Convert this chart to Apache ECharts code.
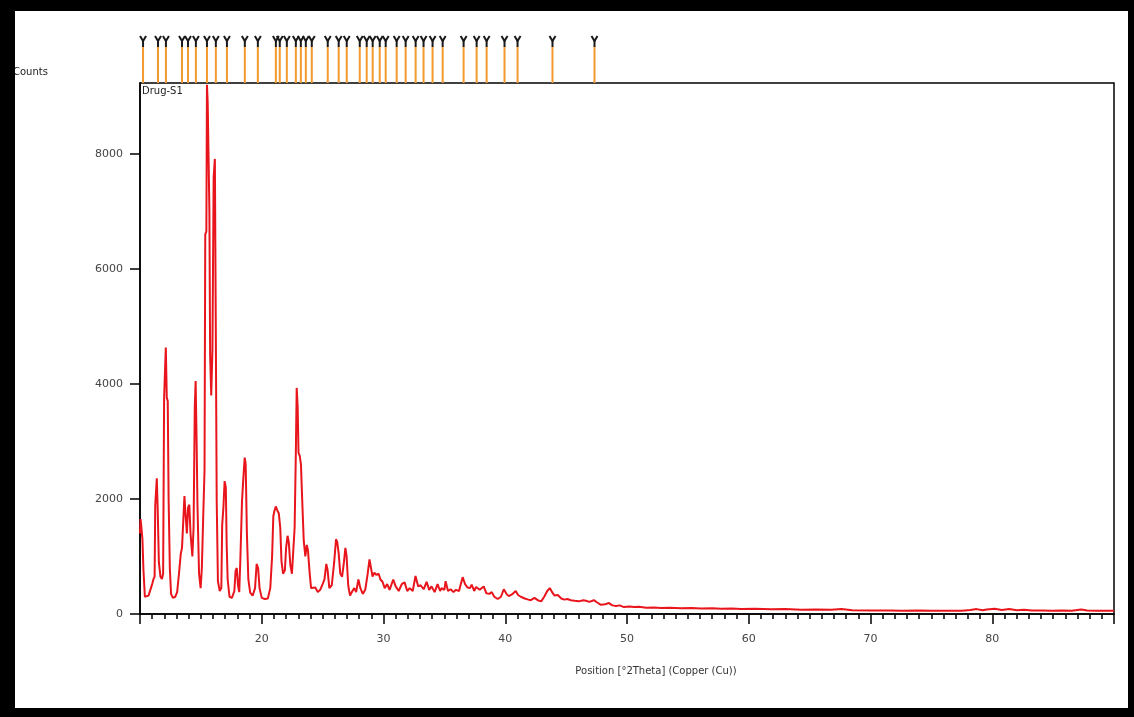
<!DOCTYPE html>
<html><head><meta charset="utf-8">
<script src="https://cdn.jsdelivr.net/npm/echarts@6/dist/echarts.min.js"></script>
<style>html,body{margin:0;padding:0;background:#fff}#c{width:1134px;height:717px}</style>
</head><body><div id="c"></div>
<script>
// Diffraction scan: [2Theta (deg), counts]
const scan = [
[10.00,1400],[10.05,1650],[10.12,1650],[10.20,1300],[10.28,780],[10.40,300],[10.55,280],[10.70,320],[10.85,420],[11.00,520],
[11.10,600],[11.20,650],[11.25,1880],[11.32,1900],[11.38,2360],[11.45,1850],[11.55,900],[11.68,650],[11.80,610],[11.90,700],
[11.98,3750],[12.05,4200],[12.12,4630],[12.20,3760],[12.28,3700],[12.35,2000],[12.45,800],[12.55,350],[12.70,280],[12.90,300],
[13.05,380],[13.20,700],[13.35,1050],[13.45,1150],[13.55,1600],[13.65,2050],[13.75,1700],[13.85,1400],[13.95,1850],[14.05,1900],
[14.15,1400],[14.30,1000],[14.40,1500],[14.50,3600],[14.57,4050],[14.65,3000],[14.72,1900],[14.85,700],[14.98,450],[15.08,800],
[15.20,1750],[15.30,2500],[15.36,6600],[15.45,6650],[15.50,9200],[15.56,8900],[15.62,8090],[15.70,7000],[15.76,4500],[15.85,3800],
[15.95,4600],[16.05,7600],[16.15,7910],[16.22,5200],[16.30,1970],[16.40,570],[16.55,400],[16.68,450],[16.75,1550],[16.85,1850],
[16.95,2310],[17.05,2200],[17.12,1200],[17.20,600],[17.35,300],[17.55,280],[17.75,400],[17.85,750],[17.95,800],[18.05,500],
[18.15,380],[18.25,1000],[18.38,1970],[18.50,2400],[18.60,2720],[18.68,2600],[18.78,1400],[18.90,600],[19.05,370],[19.25,320],
[19.45,450],[19.58,870],[19.70,800],[19.82,450],[20.00,280],[20.25,260],[20.50,270],[20.70,450],[20.85,1000],[20.95,1700],
[21.05,1800],[21.15,1870],[21.28,1800],[21.40,1750],[21.52,1500],[21.62,920],[21.75,700],[21.90,760],[22.00,1150],[22.12,1360],
[22.22,1250],[22.35,850],[22.48,700],[22.60,680],[22.70,1500],[22.80,2800],[22.87,3930],[22.95,3600],[23.02,2800],[23.12,2750],
[23.22,2600],[23.32,2000],[23.45,1270],[23.58,1000],[23.70,1200],[23.80,1100],[23.92,750],[24.05,450],[24.20,420],[24.40,460],
[24.60,380],[24.80,420],[25.00,520],[25.15,600],[25.30,870],[25.40,780],[25.55,450],[25.75,500],[25.95,900],[26.10,1300],
[26.20,1250],[26.32,1050],[26.45,700],[26.60,650],[26.75,900],[26.87,1150],[26.97,1000],[27.10,500],[27.25,320],[27.45,400],
[27.60,450],[27.75,380],[27.94,600],[28.10,450],[28.30,350],[28.50,420],[28.70,700],[28.85,950],[28.95,920],[29.10,650],
[29.25,720],[29.40,680],[29.60,700],[29.75,600],[29.92,560],[30.10,450],[30.30,520],[30.50,420],[30.80,600],[31.00,480],
[31.25,400],[31.50,520],[31.73,550],[31.95,400],[32.15,450],[32.40,400],[32.63,660],[32.85,480],[33.05,500],[33.30,430],
[33.54,560],[33.75,420],[33.95,480],[34.20,380],[34.44,520],[34.65,400],[34.77,450],[35.00,420],[35.10,570],[35.30,400],
[35.51,430],[35.75,380],[35.95,420],[36.20,400],[36.50,640],[36.70,520],[36.91,460],[37.10,450],[37.24,510],[37.45,400],
[37.60,470],[37.90,420],[38.23,480],[38.45,360],[38.70,350],[38.89,380],[39.10,300],[39.38,260],[39.65,300],[39.88,430],
[40.10,350],[40.29,310],[40.55,340],[40.86,400],[41.05,330],[41.28,300],[41.60,270],[41.90,250],[42.10,240],[42.40,280],
[42.67,240],[42.95,220],[43.20,300],[43.45,400],[43.66,450],[43.85,380],[44.05,320],[44.32,330],[44.60,270],[44.85,250],
[45.10,260],[45.39,240],[45.70,230],[46.05,220],[46.40,240],[46.63,230],[46.90,210],[47.28,240],[47.55,200],[47.86,160],
[48.20,170],[48.52,190],[48.80,150],[49.09,140],[49.40,150],[49.75,120],[50.20,130],[50.58,120],[51.00,125],[51.56,110],
[52.20,115],[52.80,105],[53.50,110],[54.44,100],[55.30,105],[56.09,95],[57.00,100],[57.74,90],[58.60,95],[59.38,88],
[60.50,90],[61.85,82],[63.00,85],[64.32,75],[65.50,78],[66.79,72],[67.61,85],[68.50,65],[70.08,60],[71.50,62],
[72.55,58],[74.00,60],[75.02,55],[76.30,57],[77.49,55],[78.20,70],[78.72,85],[79.20,65],[79.55,80],[80.20,90],
[80.78,70],[81.40,85],[82.02,65],[82.60,75],[83.25,60],[84.00,62],[84.90,58],[85.70,60],[86.54,55],[87.30,80],
[87.80,60],[88.60,58],[89.30,55],[90.00,55]
];
// Reference peak positions (2Theta) shown as sticks above the plot
const refPeaks = [10.25,11.48,12.13,13.45,13.94,14.59,15.50,16.23,17.14,18.61,19.68,21.16,21.48,22.06,22.80,23.21,23.62,24.11,
25.42,26.32,26.98,28.05,28.62,29.11,29.69,30.18,31.08,31.82,32.64,33.29,34.03,34.86,36.58,37.65,38.47,39.94,41.01,43.88,47.33];
const xTickValues = [20,30,40,50,60,70,80];
const yTickValues = [0,2000,4000,6000,8000];
const sampleName = 'Drug-S1';
const xTitle = 'Position [°2Theta] (Copper (Cu))';
const yTitle = 'Counts';

const chart = echarts.init(document.getElementById('c'), null, {renderer:'canvas'});
const font = 'DejaVu Sans';
const axisBlack = {color:'#000', width:1.5};
const option = {
  animation:false,
  backgroundColor:'#fff',
  grid:[
    {left:140, right:20, top:83, bottom:103, show:true, borderColor:'#000', borderWidth:1.5, backgroundColor:'transparent'},
    {left:140, right:20, top:35, height:48}
  ],
  xAxis:[
    {type:'value', gridIndex:0, min:10, max:90, interval:10,
     axisLine:{lineStyle:axisBlack}, axisTick:{length:10, lineStyle:axisBlack},
     minorTick:{show:true, splitNumber:10, length:5, lineStyle:axisBlack},
     splitLine:{show:false},
     axisLabel:{formatter:v=>xTickValues.includes(v)?String(v):'', margin:20, fontSize:11, color:'#444', fontFamily:font},
     name:xTitle, nameLocation:'middle', nameGap:52,
     nameTextStyle:{fontSize:10, color:'#333', fontFamily:font, padding:[0,0,0,58]}},
    {type:'value', gridIndex:1, min:10, max:90, show:false}
  ],
  yAxis:[
    {type:'value', gridIndex:0, min:0, max:9230, interval:2000,
     axisLine:{show:true, lineStyle:axisBlack},
     axisTick:{show:true, length:10, lineStyle:axisBlack, customValues:yTickValues},
     splitLine:{show:false},
     axisLabel:{customValues:yTickValues, formatter:v=>yTickValues.includes(v)?String(v):'', margin:17, fontSize:11, color:'#444', fontFamily:font}},
    {type:'value', gridIndex:1, min:0, max:1, show:false}
  ],
  series:[
    {type:'line', xAxisIndex:0, yAxisIndex:0, data:scan, showSymbol:false, lineStyle:{color:'#e8161c', width:2}, z:3},
    {type:'custom', xAxisIndex:1, yAxisIndex:1, data:refPeaks.map(p=>[p,0]),
     renderItem:(params, api)=>{
       const x = api.value(0);
       const b = api.coord([x,0]);
       const t = api.coord([x,1]);
       const stemTop = t[1] + 12;
       return {type:'group', children:[
         {type:'line', shape:{x1:b[0], y1:b[1], x2:b[0], y2:stemTop}, style:{stroke:'#f39a2e', lineWidth:2}},
         {type:'polyline', shape:{points:[[b[0]-3,t[1]+1],[b[0],t[1]+6],[b[0]+3,t[1]+1]]}, style:{stroke:'#1a1a1a', lineWidth:2, fill:null}},
         {type:'line', shape:{x1:b[0], y1:t[1]+5, x2:b[0], y2:stemTop}, style:{stroke:'#1a1a1a', lineWidth:2}}
       ]};
     }}
  ],
  graphic:[
    {type:'text', left:142, top:86, style:{text:sampleName, fontSize:10, fill:'#222', fontFamily:font}},
    {type:'text', left:13, top:67, style:{text:yTitle, fontSize:10, fill:'#222', fontFamily:font}},
    {type:'rect', left:0, top:0, shape:{width:1134, height:11}, style:{fill:'#000'}},
    {type:'rect', left:0, top:0, shape:{width:15, height:717}, style:{fill:'#000'}},
    {type:'rect', left:0, top:708, shape:{width:1134, height:9}, style:{fill:'#000'}},
    {type:'rect', left:1128, top:0, shape:{width:6, height:717}, style:{fill:'#000'}}
  ]
};
chart.setOption(option);
</script></body></html>
